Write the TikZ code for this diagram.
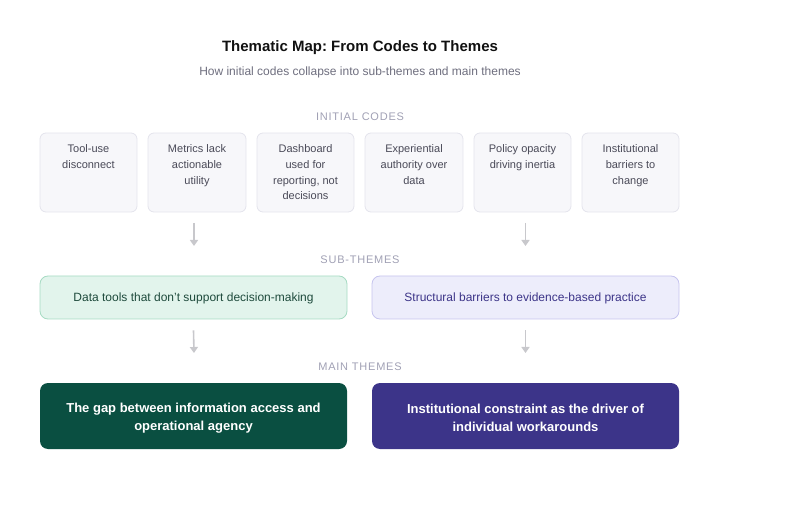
\documentclass[tikz,border=0pt]{standalone}
\usepackage{fontspec}
\setmainfont{Liberation Sans}
\usetikzlibrary{arrows.meta}
\frenchspacing
\definecolor{codefill}{HTML}{F7F7FA}
\definecolor{codeline}{HTML}{E4E4EC}
\definecolor{codetext}{HTML}{4A4A58}
\definecolor{lbl}{HTML}{A0A0B4}
\definecolor{arr}{HTML}{C8C8CC}
\definecolor{gfill}{HTML}{E2F4EC}
\definecolor{gline}{HTML}{A6DBC3}
\definecolor{gtext}{HTML}{1E4A3C}
\definecolor{pfill}{HTML}{EDEDFB}
\definecolor{pline}{HTML}{C6C4EE}
\definecolor{ptext}{HTML}{3C3488}
\definecolor{gdark}{HTML}{0A4F41}
\definecolor{pdark}{HTML}{3C3489}
\definecolor{titlec}{HTML}{111111}
\definecolor{subc}{HTML}{6E6E7E}
\tikzset{
  codebox/.style={draw=codeline, fill=codefill, rounded corners=6pt, line width=0.8pt},
  codetxt/.style={anchor=north, align=center, inner sep=0pt, text=codetext,
    font=\fontsize{11}{15.7}\selectfont},
  subbox/.style={rounded corners=8pt, line width=0.8pt, inner sep=0pt, minimum width=307pt,
    minimum height=43pt},
  subtxt/.style={inner sep=0pt, font=\fontsize{12}{14}\selectfont},
  mainbox/.style={rounded corners=8pt, inner sep=0pt, minimum width=307pt, minimum height=66pt},
  maintxt/.style={inner sep=0pt, text=white, align=center, font=\fontsize{13}{18.5}\selectfont\bfseries},
  seclbl/.style={text=lbl, font=\fontsize{11}{12}\selectfont\addfontfeature{LetterSpace=7}},
  flow/.style={draw=arr, line width=1.6pt, -{Triangle[length=6pt,width=8pt]}},
}
\begin{document}
\begin{tikzpicture}[x=1pt,y=-1pt]
\useasboundingbox (0,0) rectangle (800,518);
\node[text=titlec, font=\fontsize{15}{17}\selectfont\bfseries] (title) at (360,48) {Thematic Map: From Codes to Themes};
\node[text=subc, font=\fontsize{12}{14}\selectfont] (subtitle) at (360,72) {How initial codes collapse into sub-themes and main themes};

\node[seclbl] (l1) at (360,117) {INITIAL CODES};
\node[seclbl] (l2) at (360,260) {SUB-THEMES};
\node[seclbl] (l3) at (360,367) {MAIN THEMES};

% code boxes
\foreach \i/\xa/\xb/\t in {1/40/137/{Tool-use\\disconnect},
  2/148/246/{Metrics lack\\actionable\\utility},
  3/257/354/{Dashboard\\used for\\reporting, not\\decisions},
  4/365/463/{Experiential\\authority over\\data},
  5/474/571/{Policy opacity\\driving inertia},
  6/582/679/{Institutional\\barriers to\\change}}{
  \draw[codebox] (\xa,133) rectangle (\xb,212);
  \node[codetxt] (c\i) at ({(\xa+\xb)/2},144.5) {\t};
}

\coordinate (a1s) at (194,223);
\coordinate (a1e) at (194,246);
\coordinate (a2s) at (525.5,223);
\coordinate (a2e) at (525.5,246);
\draw[flow] (a1s) -- (a1e);
\draw[flow] (a2s) -- (a2e);

\node[subbox, draw=gline, fill=gfill] (s1) at (193.5,297.5) {};
\node[subtxt, text=gtext] (s1t) at (193.5,298.5) {Data tools that don't support decision-making};
\node[subbox, draw=pline, fill=pfill] (s2) at (525.5,297.5) {};
\node[subtxt, text=ptext] (s2t) at (525.5,298.5) {Structural barriers to evidence-based practice};

\coordinate (b1e) at (194,353);
\coordinate (b2e) at (525.5,353);
\draw[flow] ([yshift=-11pt]s1.south) -- (b1e);
\draw[flow] ([yshift=-11pt]s2.south) -- (b2e);

\node[mainbox, fill=gdark] (m1) at (193.5,416) {};
\node[maintxt] (m1t) at (193.5,418) {The gap between information access and\\operational agency};
\node[mainbox, fill=pdark] (m2) at (525.5,416) {};
\node[maintxt] (m2t) at (525.5,418) {Institutional constraint as the driver of\\individual workarounds};
\end{tikzpicture}
\end{document}
